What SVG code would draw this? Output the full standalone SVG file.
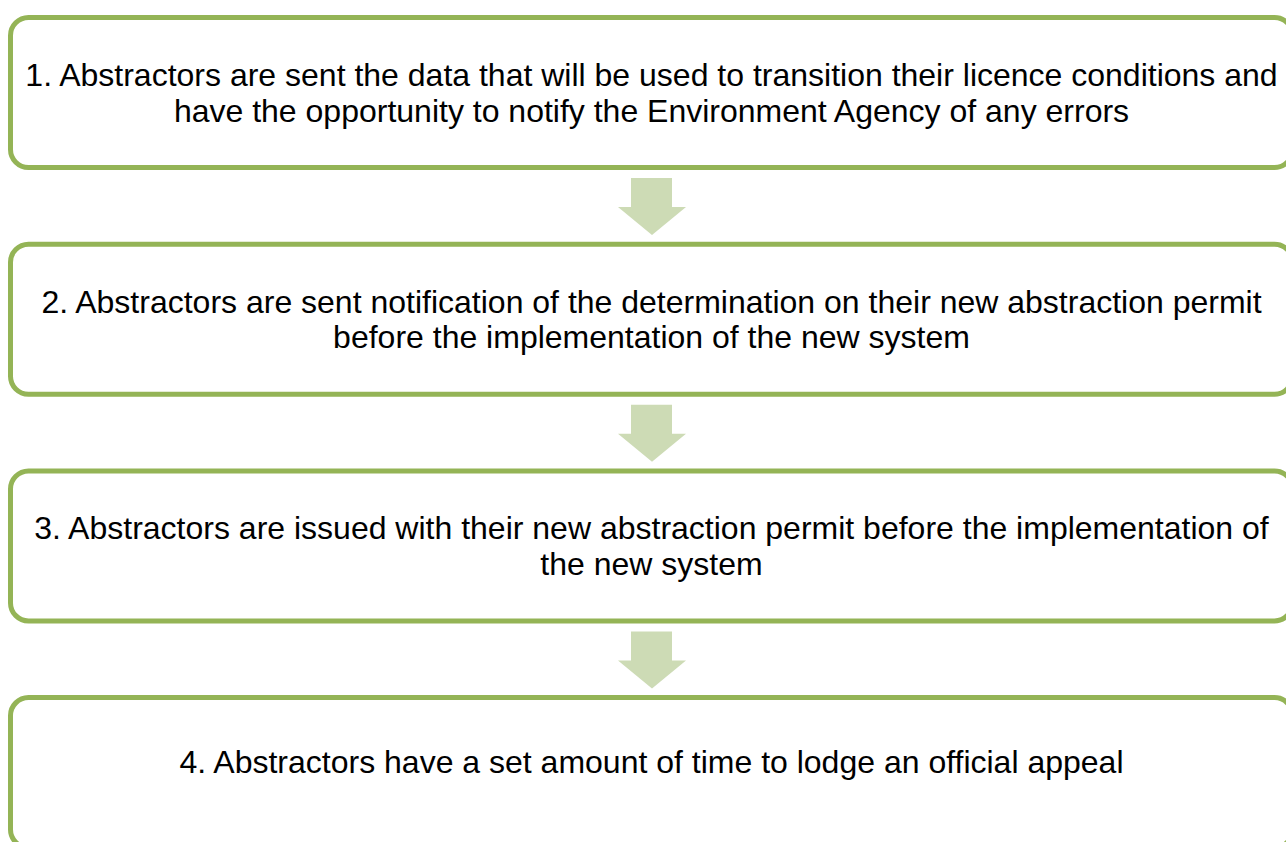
<svg xmlns="http://www.w3.org/2000/svg" width="1286" height="842" viewBox="0 0 1286 842">
  <style>
    .step { fill: #ffffff; stroke: #94b456; stroke-width: 5; }
    .label { font-family: "Liberation Sans", Arial, sans-serif; font-size: 32px; fill: #000000; text-anchor: middle; }
    .flow { fill: #cddbb5; stroke: none; }
  </style>
  <defs>
    <polygon id="downArrow" class="flow" points="631,178 672,178 672,207 686,207 652,235 618,207 631,207"/>
  </defs>
  <rect width="1286" height="842" fill="#ffffff"/>

  <g id="step1">
    <rect class="step" x="10.5" y="17.5" width="1282" height="150" rx="18" ry="18"/>
    <text class="label" x="651.5" y="86">1. Abstractors are sent the data that will be used to transition their licence conditions and</text>
    <text class="label" x="651.5" y="121.5">have the opportunity to notify the Environment Agency of any errors</text>
  </g>

  <g id="step2">
    <rect class="step" x="10.5" y="244.2" width="1282" height="150" rx="18" ry="18"/>
    <text class="label" x="651.5" y="312.5">2. Abstractors are sent notification of the determination on their new abstraction permit</text>
    <text class="label" x="651.5" y="348">before the implementation of the new system</text>
  </g>

  <g id="step3">
    <rect class="step" x="10.5" y="470.9" width="1282" height="150" rx="18" ry="18"/>
    <text class="label" x="651.5" y="539">3. Abstractors are issued with their new abstraction permit before the implementation of</text>
    <text class="label" x="651.5" y="574.5">the new system</text>
  </g>

  <g id="step4">
    <rect class="step" x="10.5" y="697.6" width="1282" height="150" rx="18" ry="18"/>
    <text class="label" x="651.5" y="773">4. Abstractors have a set amount of time to lodge an official appeal</text>
  </g>

  <g id="connectors">
    <use href="#downArrow"/>
    <use href="#downArrow" y="226.7"/>
    <use href="#downArrow" y="453.4"/>
  </g>
</svg>
